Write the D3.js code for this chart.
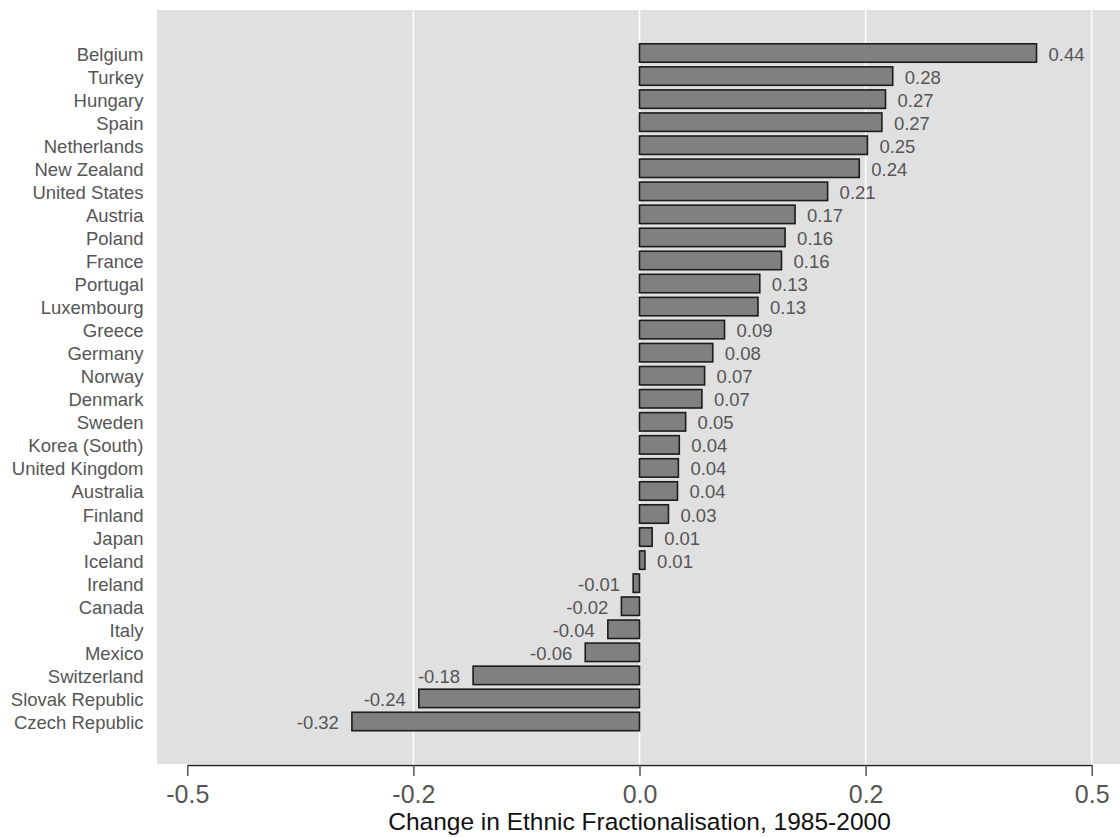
<!DOCTYPE html>
<html>
<head>
<meta charset="utf-8">
<script src="https://cdn.jsdelivr.net/npm/d3@7"></script>
<style>
  html, body { margin: 0; padding: 0; background: #fff; }
  svg { display: block; font-family: "Liberation Sans", Arial, Helvetica, sans-serif; }
</style>
</head>
<body>
<svg id="chart" width="1120" height="837"></svg>
<script>
const countries = ["Belgium","Turkey","Hungary","Spain","Netherlands","New Zealand","United States","Austria","Poland","France","Portugal","Luxembourg","Greece","Germany","Norway","Denmark","Sweden","Korea (South)","United Kingdom","Australia","Finland","Japan","Iceland","Ireland","Canada","Italy","Mexico","Switzerland","Slovak Republic","Czech Republic"];
const values = [0.439,0.280,0.272,0.268,0.252,0.243,0.208,0.172,0.161,0.157,0.133,0.131,0.094,0.081,0.072,0.069,0.051,0.044,0.043,0.042,0.032,0.014,0.006,-0.007,-0.020,-0.035,-0.060,-0.184,-0.244,-0.318];
const valueLabels = ["0.44","0.28","0.27","0.27","0.25","0.24","0.21","0.17","0.16","0.16","0.13","0.13","0.09","0.08","0.07","0.07","0.05","0.04","0.04","0.04","0.03","0.01","0.01","-0.01","-0.02","-0.04","-0.06","-0.18","-0.24","-0.32"];
const tickValues = [-0.5, -0.25, 0, 0.25, 0.5];
const tickLabels = ["-0.5", "-0.2", "0.0", "0.2", "0.5"];
const gridValues = [-0.25, 0, 0.25, 0.5];
const axisTitle = "Change in Ethnic Fractionalisation, 1985-2000";

const data = countries.map((c, i) => ({ country: c, value: values[i], label: valueLabels[i] }));

const svg = d3.select("#chart");
const panel = { left: 157, top: 10, right: 1120, bottom: 764 };

const x = d3.scaleLinear().domain([-0.5, 0.5]).range([187.3, 1091.7]);
const y = d3.scaleBand().domain(countries).range([41.5, 733]).paddingInner(0.2).paddingOuter(0.1);

// panel background
svg.append("rect")
  .attr("x", panel.left).attr("y", panel.top)
  .attr("width", panel.right - panel.left).attr("height", panel.bottom - panel.top)
  .attr("fill", "#e0e0e0");

// gridlines
svg.append("g").selectAll("line").data(gridValues).join("line")
  .attr("x1", d => x(d)).attr("x2", d => x(d))
  .attr("y1", panel.top).attr("y2", panel.bottom)
  .attr("stroke", "#ffffff").attr("stroke-width", 1.5);

// bars
svg.append("g").selectAll("rect").data(data).join("rect")
  .attr("x", d => x(Math.min(0, d.value)))
  .attr("y", d => y(d.country))
  .attr("width", d => Math.abs(x(d.value) - x(0)))
  .attr("height", y.bandwidth())
  .attr("fill", "#808080")
  .attr("stroke", "#1c1c1c")
  .attr("stroke-width", 1.6);

// value labels
svg.append("g").selectAll("text").data(data).join("text")
  .attr("x", d => d.value >= 0 ? x(d.value) + 12 : x(d.value) - 13)
  .attr("y", d => y(d.country) + y.bandwidth() / 2 + 7.5)
  .attr("text-anchor", d => d.value >= 0 ? "start" : "end")
  .attr("font-size", 18.5)
  .attr("fill", "#555")
  .text(d => d.label);

// country labels
svg.append("g").selectAll("text").data(data).join("text")
  .attr("x", 143.5)
  .attr("y", d => y(d.country) + y.bandwidth() / 2 + 7.5)
  .attr("text-anchor", "end")
  .attr("font-size", 18.5)
  .attr("fill", "#555")
  .text(d => d.country);

// x axis
const axis = d3.axisBottom(x)
  .tickValues(tickValues)
  .tickFormat((d, i) => tickLabels[i])
  .tickSize(11)
  .tickSizeOuter(0)
  .tickPadding(9);

const gAxis = svg.append("g")
  .attr("transform", `translate(0, ${panel.bottom + 1})`)
  .call(axis);
gAxis.select(".domain").attr("stroke", "#222").attr("stroke-width", 1.5);
gAxis.selectAll(".tick line").attr("stroke", "#555").attr("stroke-width", 1.5);
gAxis.selectAll(".tick text")
  .attr("font-size", 25)
  .attr("font-family", "Liberation Sans, Arial, sans-serif")
  .attr("fill", "#555");

// axis title
svg.append("text")
  .attr("x", (x.range()[0] + x.range()[1]) / 2)
  .attr("y", 830)
  .attr("text-anchor", "middle")
  .attr("font-size", 24.5)
  .attr("fill", "#111")
  .text(axisTitle);
</script>
</body>
</html>
